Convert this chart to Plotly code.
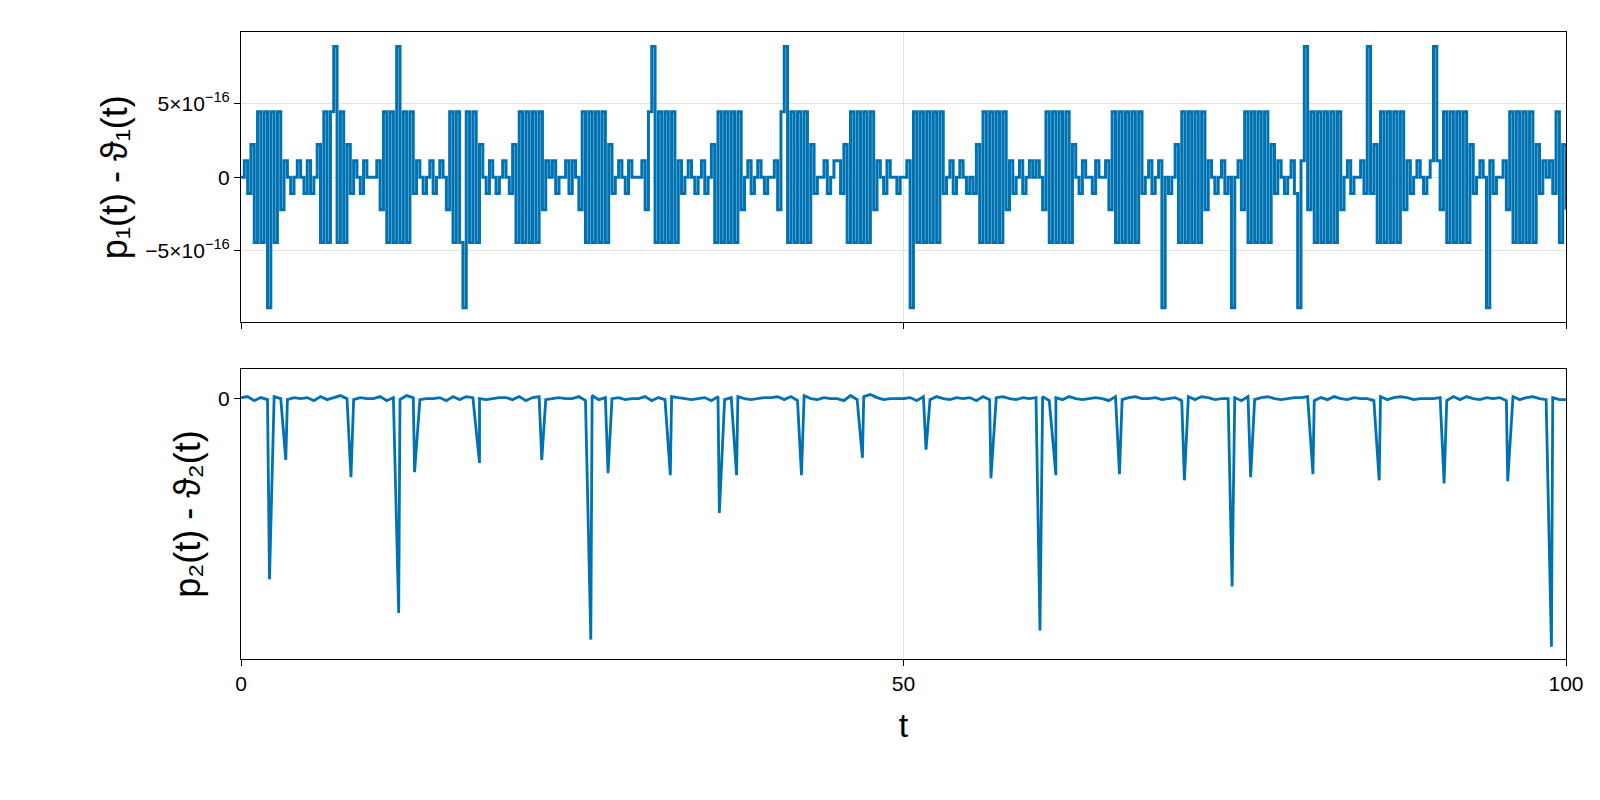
import plotly.graph_objects as go
from plotly.subplots import make_subplots

# ---- top panel: values in units of 1.11e-16, sampled every 0.25 in t ----
TOP_UNIT = 1.11e-16
TOP_STEP = 0.25
top_rows = [
    [0,1,-1,2,-4,4,-4,4,-8,4,-4,4,-2,1,0,-1,0,1,0,-1],
    [1,-1,0,2,-4,4,-4,4,8,-4,4,-4,2,-1,1,0,-1,1,0,0],
    [0,1,-2,4,-4,4,-4,8,-4,4,-4,4,-1,1,0,-1,0,1,-1,0],
    [1,0,-2,4,-4,4,-4,-8,4,-4,4,-4,2,0,-1,1,0,-1,0,1],
    [0,-1,2,-4,4,-4,4,-4,4,-4,4,-2,1,0,1,-1,0,0,1,-1],
    [1,0,-2,4,-4,4,-4,4,-4,4,-4,2,-1,0,1,0,-1,1,0,0],
    [0,1,-2,4,8,-4,4,-4,4,-4,4,-4,1,-1,0,1,0,-1,0,1],
    [-1,0,2,-4,4,-4,4,-4,4,-4,4,-2,0,1,-1,0,1,0,-1,0],
    [0,1,-2,4,8,-4,4,-4,4,-4,4,-4,2,-1,0,0,1,-1,0,1],
    [1,-1,2,-4,4,-4,4,-4,4,-4,4,-2,1,0,-1,1,0,0,-1,0],
    [0,1,-8,4,-4,4,-4,4,-4,4,-4,4,-1,0,1,-1,0,1,0,-1],
    [0,-1,2,-4,4,-4,4,-4,4,-4,4,-2,1,-1,0,1,-1,0,1,0],
    [1,0,-2,4,-4,4,-4,4,-4,4,-4,2,0,-1,1,0,0,-1,1,0],
    [0,1,-2,4,-4,4,-4,4,-4,4,-4,4,-1,0,1,-1,0,1,-8,0],
    [-1,0,2,-4,4,-4,4,-4,4,-4,4,-2,1,0,-1,0,1,-1,0,-8],
    [0,1,-2,4,-4,4,-4,4,-4,4,-4,2,-1,1,0,-1,0,1,-1,-8],
    [1,8,-2,4,-4,4,-4,4,-4,4,-4,4,-2,0,1,-1,0,0,1,-1],
    [8,-1,2,-4,4,-4,4,-4,4,-4,4,-2,1,-1,0,1,0,-1,0,1],
    [8,1,-2,4,-4,4,-4,4,-4,4,-4,2,-1,0,1,0,-8,1,-1,0],
    [0,1,-2,4,-4,4,-4,4,-4,4,-4,2,-1,1,0,1,-1,4,-4,2],
]
top_end = [-2]

# ---- bottom panel: baseline every 0.5 in t (units of 0.1), plus spikes ----
BOT_STEP = 0.5
bot_rows = [
    [1,2,-2,1,-1,2,0,-1,1,0, 1,-2,2,-1,1,3,0,-1,1,0],
    [0,2,-2,1,-1,3,1,-1,0,0, 1,-2,2,-1,2,1,0,-1,0,1],
    [1,-1,2,-2,1,2,-1,0,1,0, 0,2,-2,3,-1,1,0,1,-1,0],
    [0,2,-2,1,-1,2,1,0,-1,0, 1,-2,2,-1,1,2,0,-1,0,1],
    [1,2,-1,2,-2,3,0,-1,1,0, 0,-2,3,-1,2,4,1,-1,0,0],
    [0,1,-2,2,-1,2,0,-1,1,0, 1,-2,2,-1,1,2,0,-1,1,0],
    [1,2,-2,1,-1,2,0,-1,0,1, 0,-2,2,-1,1,2,0,0,1,-1],
    [0,1,-2,2,-1,2,1,-1,0,0, 1,-2,2,-1,1,2,0,-1,0,1],
    [1,2,-2,1,-1,2,0,-1,1,0, 0,-2,2,-1,1,2,1,-1,0,0],
    [0,1,-2,2,-1,2,0,-1,1,0, 1,-2,2,-1,1,2,0,-1,1,-1],
]
bot_end = [-1]
spike_t = [2.15,3.38,8.30,11.9,13.1,18.0,22.7,26.4,27.7,32.4,36.1,37.4,42.3,46.9,
           51.7,56.6,60.3,61.5,66.3,71.2,74.8,76.2,80.9,85.9,90.8,95.6,98.9]
spike_v = [-17.7,-6.0,-7.7,-21.0,-7.2,-6.3,-6.0,-23.6,-7.3,-7.5,-11.2,-7.5,-7.5,-5.8,
           -5.0,-7.8,-22.7,-7.5,-7.4,-8.0,-18.4,-7.7,-7.4,-8.0,-8.3,-8.1,-24.3]

top_vals = [v for r in top_rows for v in r] + top_end
top_t = [i * TOP_STEP for i in range(len(top_vals))]
top_y = [v * TOP_UNIT for v in top_vals]

base_vals = [v for r in bot_rows for v in r] + bot_end
pts = [(i * BOT_STEP, v / 10) for i, v in enumerate(base_vals)] + list(zip(spike_t, spike_v))
pts.sort()
bot_t = [p[0] for p in pts]
bot_y = [p[1] for p in pts]

BLUE = "rgb(0,114,178)"
fig = make_subplots(rows=2, cols=1, shared_xaxes=True)
fig.add_trace(go.Scatter(x=top_t, y=top_y, mode="lines", line=dict(color=BLUE, width=3, shape="hv"),
                         showlegend=False), row=1, col=1)
fig.add_trace(go.Scatter(x=bot_t, y=bot_y, mode="lines", line=dict(color=BLUE, width=2.8),
                         showlegend=False), row=2, col=1)

ax = dict(showline=True, linecolor="black", linewidth=1, mirror=True, ticks="outside",
          ticklen=6, tickcolor="black", gridcolor="#e3e3e3", zeroline=False,
          tickfont=dict(size=21, color="black"))
fig.update_xaxes(**ax, range=[0, 100], tickvals=[0, 50, 100])
fig.update_xaxes(showticklabels=False, row=1, col=1)
fig.update_xaxes(title=dict(text="t", font=dict(size=34), standoff=18), row=2, col=1)
fig.update_yaxes(**ax)
fig.update_yaxes(range=[-9.86e-16, 9.86e-16], tickvals=[-5e-16, 0, 5e-16],
                 ticktext=["−5×10<sup>−16</sup>", "0", "5×10<sup>−16</sup>"],
                 title=dict(text="p₁(t) - ϑ₁(t)", font=dict(size=36), standoff=6), row=1, col=1)
fig.update_yaxes(range=[-25.5, 2.9], tickvals=[0], ticktext=["0"],
                 title=dict(text="p₂(t) - ϑ₂(t)", font=dict(size=36), standoff=6), row=2, col=1)
fig.update_layout(
    width=1600, height=800, plot_bgcolor="white", paper_bgcolor="white",
    font=dict(family="Liberation Sans, Arial, sans-serif", color="black"),
    margin=dict(l=233, r=42, t=24, b=149),
    xaxis=dict(domain=[0, 1]), yaxis=dict(domain=[0.537, 1]), yaxis2=dict(domain=[0, 0.4625]),
)
fig.write_html("out.html")
